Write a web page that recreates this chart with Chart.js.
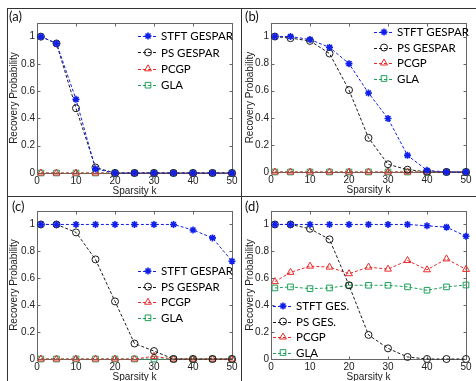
<!DOCTYPE html>
<html><head><meta charset="utf-8">
<script src="https://cdn.jsdelivr.net/npm/chart.js@4/dist/chart.umd.min.js"></script>
<style>
html,body{margin:0;padding:0;background:#fff;width:476px;height:381px;overflow:hidden;position:relative}
canvas{position:absolute;left:0;top:0}
.lbl{position:absolute;font:13px Lato,"Liberation Sans",sans-serif;color:#111;line-height:13px}
.hl{position:absolute;background:#333;height:1px}
.vl{position:absolute;background:#333;width:1px}
</style></head><body>
<canvas id="ca" width="476" height="400"></canvas>
<canvas id="cb" width="476" height="400"></canvas>
<canvas id="cc" width="476" height="400"></canvas>
<canvas id="cd" width="476" height="400"></canvas>
<div class="hl" style="left:7px;top:8px;width:469px"></div>
<div class="hl" style="left:7px;top:196px;width:469px"></div>
<div class="vl" style="left:7px;top:8px;height:373px"></div>
<div class="vl" style="left:241px;top:8px;height:373px"></div>
<div class="lbl" style="left:9px;top:10px">(a)</div>
<div class="lbl" style="left:245px;top:10px">(b)</div>
<div class="lbl" style="left:12px;top:200px">(c)</div>
<div class="lbl" style="left:245px;top:200px">(d)</div>
<script>
// ---- data ----
const sparsityK = [1, 5, 10, 15, 20, 25, 30, 35, 40, 45, 50];
const xTickLabels = [0, 10, 20, 30, 40, 50];
const yTickLabels = [0, 0.2, 0.4, 0.6, 0.8, 1];
const seriesNames = ['STFT GESPAR', 'PS GESPAR', 'PCGP', 'GLA'];
const seriesNamesD = ['STFT GES.', 'PS GES.', 'PCGP', 'GLA'];
const xTitle = 'Sparsity k';
const yTitle = 'Recovery Probability';

const stftA = [1, 0.95, 0.54, 0.03, 0, 0, 0, 0, 0, 0, 0];
const psA   = [1, 0.95, 0.475, 0.04, 0, 0, 0, 0, 0, 0, 0];
const pcgpA = [0, 0, 0, 0, 0, 0, 0, 0, 0, 0, 0];
const glaA  = [0, 0, 0, 0, 0, 0, 0, 0, 0, 0, 0];

const stftB = [1, 1, 0.978, 0.92, 0.80, 0.583, 0.395, 0.123, 0.012, 0, 0];
const psB   = [1, 0.988, 0.968, 0.875, 0.605, 0.252, 0.057, 0.017, 0.002, 0, 0];
const pcgpB = [0, 0, 0, 0, 0, 0, 0, 0, 0, 0, 0];
const glaB  = [0, 0, 0, 0, 0, 0, 0, 0, 0, 0, 0];

const stftC = [1, 1, 1, 1, 1, 1, 1, 1, 0.959, 0.90, 0.727];
const psC   = [1, 1, 0.941, 0.74, 0.428, 0.115, 0.059, 0, 0, 0, 0];
const pcgpC = [0, 0, 0, 0, 0, 0, 0.02, 0, 0, 0, 0];
const glaC  = [0, 0, 0, 0, 0, 0, 0, 0, 0, 0, 0];

const stftD = [1, 1, 1, 1, 1, 1, 1, 1, 0.99, 0.98, 0.912];
const psD   = [1, 1, 0.968, 0.889, 0.548, 0.179, 0.079, 0.015, 0, 0, 0];
const pcgpD = [0.575, 0.644, 0.69, 0.683, 0.634, 0.683, 0.668, 0.732, 0.663, 0.744, 0.666];
const glaD  = [0.528, 0.536, 0.523, 0.528, 0.548, 0.548, 0.548, 0.536, 0.511, 0.536, 0.55];

// ---- styles ----
const styles = [
  {color: '#1020e8', bg: '#1020e8', pointStyle: 'star', radius: 3.5, pbw: 1.6},
  {color: '#1a1a1a', bg: 'rgba(0,0,0,0)', pointStyle: 'circle', radius: 3.5, pbw: 1},
  {color: '#e82a2a', bg: 'rgba(0,0,0,0)', pointStyle: 'triangle', radius: 4, pbw: 1},
  {color: '#1ea05a', bg: 'rgba(0,0,0,0)', pointStyle: 'rect', radius: 4, pbw: 1}
];

const boxPlugin = {
  id: 'boxTicks',
  beforeDatasetsDraw(chart) {
    const {ctx, chartArea: a, scales: {x, y}} = chart;
    const L = Math.round(a.left) + 0.5, R = Math.round(a.right) + 0.5;
    const T = Math.round(a.top) + 0.5, B = Math.round(a.bottom) + 0.5;
    ctx.save();
    ctx.strokeStyle = '#666';
    ctx.lineWidth = 1;
    ctx.strokeRect(L, T, R - L, B - T);
    ctx.beginPath();
    x.ticks.forEach(t => {
      const p = Math.round(x.getPixelForValue(t.value)) + 0.5;
      ctx.moveTo(p, B); ctx.lineTo(p, B - 3);
      ctx.moveTo(p, T); ctx.lineTo(p, T + 3);
    });
    y.ticks.forEach(t => {
      const p = Math.round(y.getPixelForValue(t.value)) + 0.5;
      ctx.moveTo(L, p); ctx.lineTo(L + 3, p);
      ctx.moveTo(R, p); ctx.lineTo(R - 3, p);
    });
    ctx.stroke();
    ctx.restore();
  }
};

const legendPlugin = {
  id: 'customLegend',
  afterDraw(chart, args, o) {
    const ctx = chart.ctx;
    ctx.save();
    ctx.font = o.font;
    ctx.textBaseline = 'middle';
    chart.data.datasets.forEach((ds, i) => {
      const yy = o.y + i * o.dy;
      ctx.strokeStyle = ds.borderColor;
      ctx.lineWidth = 1;
      ctx.setLineDash(ds.borderDash);
      ctx.beginPath();
      ctx.moveTo(o.x, Math.round(yy) + 0.5);
      ctx.lineTo(o.x + o.w, Math.round(yy) + 0.5);
      ctx.stroke();
      ctx.setLineDash([]);
      ctx.fillStyle = ds.pointBackgroundColor;
      ctx.lineWidth = ds.pointBorderWidth;
      Chart.helpers.drawPoint(ctx, {pointStyle: ds.pointStyle, radius: ds.pointRadius, rotation: 0, borderWidth: ds.pointBorderWidth}, o.x + o.w / 2, yy);
      ctx.fillStyle = '#000';
      ctx.fillText(ds.label, o.x + o.w + 3, yy + 0.5);
    });
    ctx.restore();
  }
};

const tickFont = {family: '"Liberation Sans", Arial, sans-serif', size: 10};

function makeChart(id, rect, series, names, leg, wy) {
  const H = 400, W = 476, hx = 24;
  const datasets = series.map((s, i) => ({
    label: names[i], data: sparsityK.map((k, j) => ({x: k, y: s[j]})),
    borderColor: styles[i].color, backgroundColor: styles[i].bg,
    pointBackgroundColor: styles[i].bg, pointBorderColor: styles[i].color,
    pointStyle: styles[i].pointStyle, pointRadius: styles[i].radius,
    pointBorderWidth: styles[i].pbw, borderWidth: 1, borderDash: [3, 2],
    tension: 0, fill: false, clip: false
  }));
  return new Chart(document.getElementById(id), {
    type: 'line',
    data: {datasets},
    plugins: [boxPlugin, legendPlugin],
    options: {
      responsive: false, animation: false, devicePixelRatio: 1,
      layout: {padding: {left: rect.L - wy, top: rect.T, right: W - rect.R, bottom: H - rect.B - hx}},
      plugins: {legend: {display: false}, tooltip: {enabled: false},
        customLegend: Object.assign({font: '11.5px Lato, "Open Sans", sans-serif'}, leg)},
      scales: {
        x: {type: 'linear', min: 0, max: 50,
          afterFit(s) { s.height = hx; },
          afterBuildTicks(s) { s.ticks = xTickLabels.map(v => ({value: v})); },
          grid: {display: false, drawTicks: false}, border: {display: false},
          ticks: {font: tickFont, color: '#222', padding: 2, maxRotation: 0, autoSkip: false, callback: v => String(v)},
          title: {display: true, text: xTitle, font: tickFont, color: '#222', padding: {top: 0, bottom: 0}}
        },
        y: {type: 'linear', min: 0, max: 1.1,
          afterFit(s) { s.width = wy; },
          afterBuildTicks(s) { s.ticks = yTickLabels.map(v => ({value: v})); },
          grid: {display: false, drawTicks: false}, border: {display: false},
          ticks: {font: tickFont, color: '#222', padding: 2, autoSkip: false, callback: v => String(v)},
          title: {display: true, text: yTitle, font: tickFont, color: '#222', padding: {top: 1, bottom: 0}}
        }
      }
    }
  });
}

makeChart('ca', {L: 37, T: 23, R: 232, B: 173}, [stftA, psA, pcgpA, glaA], seriesNames, {x: 138, y: 36, dy: 16.4, w: 20}, 30);
makeChart('cb', {L: 271, T: 23, R: 466, B: 172}, [stftB, psB, pcgpB, glaB], seriesNames, {x: 374, y: 32, dy: 15.5, w: 20}, 28);
makeChart('cc', {L: 37, T: 211, R: 232, B: 359}, [stftC, psC, pcgpC, glaC], seriesNames, {x: 138, y: 271, dy: 15.6, w: 20}, 30);
makeChart('cd', {L: 271, T: 211, R: 466, B: 359}, [stftD, psD, pcgpD, glaD], seriesNamesD, {x: 273, y: 306, dy: 15.5, w: 20}, 28);
</script>
</body></html>
